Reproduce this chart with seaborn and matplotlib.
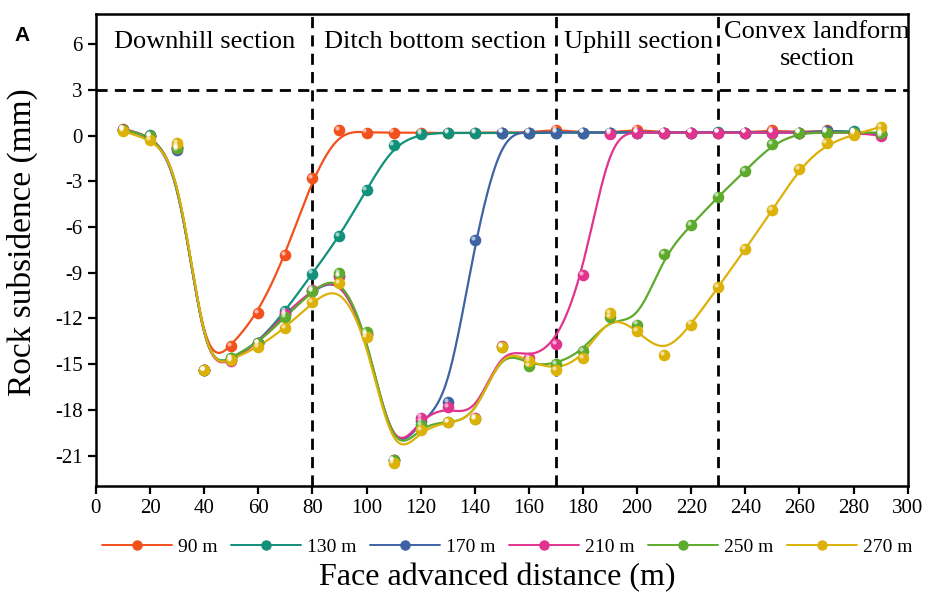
#!/usr/bin/env python

# Rock subsidence vs. face advanced distance, one curve per advance step

import numpy as np
import pandas as pd
import seaborn as sns
from matplotlib import pyplot as plt
from matplotlib.lines import Line2D
from matplotlib import transforms

# measuring points along the section (m)
distance = list(range(10, 300, 10))

sub_90 = [0.45, 0.0, -0.7, -15.4, -13.8, -11.65, -7.85, -2.8, 0.35, 0.2,
          0.2, 0.2, 0.15, 0.2, 0.2, 0.2, 0.4, 0.2, 0.2, 0.4,
          0.2, 0.2, 0.2, 0.2, 0.35, 0.2, 0.35, 0.2, 0.1]
sub_130 = [0.4, 0.05, -0.8, -15.4, -14.6, -13.6, -11.5, -9.05, -6.6, -3.56,
           -0.6, 0.1, 0.2, 0.15, 0.2, 0.15, 0.2, 0.2, 0.2, 0.2,
           0.2, 0.2, 0.25, 0.2, 0.2, 0.2, 0.3, 0.3, 0.1]
sub_170 = [0.4, 0.0, -0.95, -15.4, -14.7, -13.6, -11.7, -10.2, -9.2, -13.0,
           -21.3, -18.7, -17.5, -6.85, 0.2, 0.2, 0.2, 0.2, 0.2, 0.2,
           0.2, 0.2, 0.2, 0.2, 0.2, 0.2, 0.3, 0.2, 0.1]
sub_210 = [0.4, 0.0, -0.8, -15.4, -14.8, -13.6, -11.7, -10.1, -9.2, -13.0,
           -21.3, -18.5, -17.8, -18.5, -13.8, -14.6, -13.7, -9.16, 0.1, 0.2,
           0.2, 0.2, 0.2, 0.2, 0.2, 0.2, 0.2, 0.2, 0.0]
sub_250 = [0.4, 0.0, -0.8, -15.4, -14.6, -13.6, -11.9, -10.2, -9.0, -12.9,
           -21.3, -19.0, -18.8, -18.6, -13.9, -15.1, -15.0, -14.15, -11.9, -12.4,
           -7.8, -5.87, -4.0, -2.3, -0.55, 0.17, 0.2, 0.2, 0.2]
sub_270 = [0.3, -0.3, -0.5, -15.4, -14.7, -13.9, -12.6, -10.95, -9.7, -13.2,
           -21.5, -19.3, -18.8, -18.6, -13.9, -14.8, -15.4, -14.6, -11.65, -12.8,
           -14.4, -12.4, -9.93, -7.45, -4.88, -2.17, -0.48, 0.07, 0.57]

labels = ["90 m", "130 m", "170 m", "210 m", "250 m", "270 m"]
colors = ["#f2501c", "#11907a", "#3d63a3", "#e2338f", "#5daa2c", "#dcb20a"]
series = [sub_90, sub_130, sub_170, sub_210, sub_250, sub_270]

sections = ["Downhill section", "Ditch bottom section", "Uphill section",
            "Convex landform\nsection"]
section_x = [40.3, 125.4, 200.5, 266.5]
bounds = [80, 170, 230]


def bspline(x, y, n=700, k=3):
    # clamped cubic B-spline with the measured points as control points
    P = np.column_stack([x, y]).astype(float)
    m = len(P)
    knots = np.concatenate([np.zeros(k), np.linspace(0, 1, m - k + 1), np.ones(k)])
    t = np.linspace(0, 1, n)
    N = np.array([((knots[i] <= t) & (t < knots[i + 1])).astype(float)
                  for i in range(len(knots) - 1)])
    N[m - 1, -1] = 1.0
    for p in range(1, k + 1):
        Nn = np.zeros((len(knots) - 1 - p, n))
        for i in range(len(knots) - 1 - p):
            d1 = knots[i + p] - knots[i]
            d2 = knots[i + p + 1] - knots[i + 1]
            a = (t - knots[i]) / d1 * N[i] if d1 > 0 else 0
            b = (knots[i + p + 1] - t) / d2 * N[i + 1] if d2 > 0 else 0
            Nn[i] = a + b
        N = Nn
    return N.T @ P


pts = pd.concat([pd.DataFrame({"x": distance, "y": s, "step": lab})
                 for s, lab in zip(series, labels)])
curves = []
for s, lab in zip(series, labels):
    c = bspline(distance, s)
    curves.append(pd.DataFrame({"x": c[:, 0], "y": c[:, 1], "step": lab}))
curves = pd.concat(curves)

sns.set_theme(style="ticks")
plt.rcParams["font.family"] = ["Liberation Serif", "DejaVu Serif"]
plt.rcParams["axes.linewidth"] = 1.8
plt.rcParams["axes.unicode_minus"] = False
plt.rcParams["axes.edgecolor"] = "black"
plt.rcParams["xtick.color"] = "black"
plt.rcParams["ytick.color"] = "black"
plt.rcParams["text.color"] = "black"

fig = plt.figure(figsize=(9.31, 5.95), dpi=100)
ax = fig.add_axes([0.103, 0.183, 0.872, 0.794])

pal = dict(zip(labels, colors))
for lab in labels:
    sns.lineplot(data=curves[curves.step == lab], x="x", y="y", color=pal[lab],
                 lw=1.6, sort=False, estimator=None, ax=ax, legend=False, zorder=3)
for lab in labels:
    d = pts[pts.step == lab]
    sns.scatterplot(data=d, x="x", y="y", color=pal[lab], s=70, linewidth=0,
                    ax=ax, legend=False, zorder=4)
    # small glossy highlight on each ball
    hl = transforms.offset_copy(ax.transData, fig=fig, x=-1.5, y=1.5, units="points")
    ax.scatter(d.x, d.y, s=9, color="white", alpha=0.6, linewidth=0,
               transform=hl, zorder=5)

# section boundaries
for b in bounds:
    ax.axvline(b, color="black", lw=2, dashes=(4, 2.6), zorder=2)
ax.axhline(3, color="black", lw=2, dashes=(4, 2.6), zorder=2)

for txt, xs in zip(sections, section_x):
    ax.text(xs, 6.15 if "\n" not in txt else 5.9, txt, ha="center", va="center",
            fontsize=19, linespacing=1.3)

ax.set_xlim(0, 300)
ax.set_ylim(-23, 8)
ax.set_xticks(range(0, 301, 20))
ax.set_yticks(range(-21, 7, 3))
ax.tick_params(direction="out", length=6, width=1.6, labelsize=15)
ax.set_xlabel("")
ax.set_ylabel("")
for sp in ax.spines.values():
    sp.set_visible(True)

fig.text(0.024, 0.593, "Rock subsidence (mm)", rotation=90, ha="center",
         va="center", fontsize=24)
fig.text(0.534, 0.03, "Face advanced distance (m)", ha="center", va="center",
         fontsize=23)
fig.text(0.024, 0.941, "A", fontsize=15, fontweight="bold",
         family="Liberation Sans", ha="center", va="center")

handles = [Line2D([], [], color=c, lw=1.4, marker="o", markersize=6.5) for c in colors]
fig.legend(handles, labels, loc="center", bbox_to_anchor=(0.545, 0.081), ncol=6,
           frameon=False, fontsize=14, handlelength=3.6, handletextpad=0.3,
           columnspacing=0.7, borderaxespad=0)

fig.savefig("out.png", dpi=100)
